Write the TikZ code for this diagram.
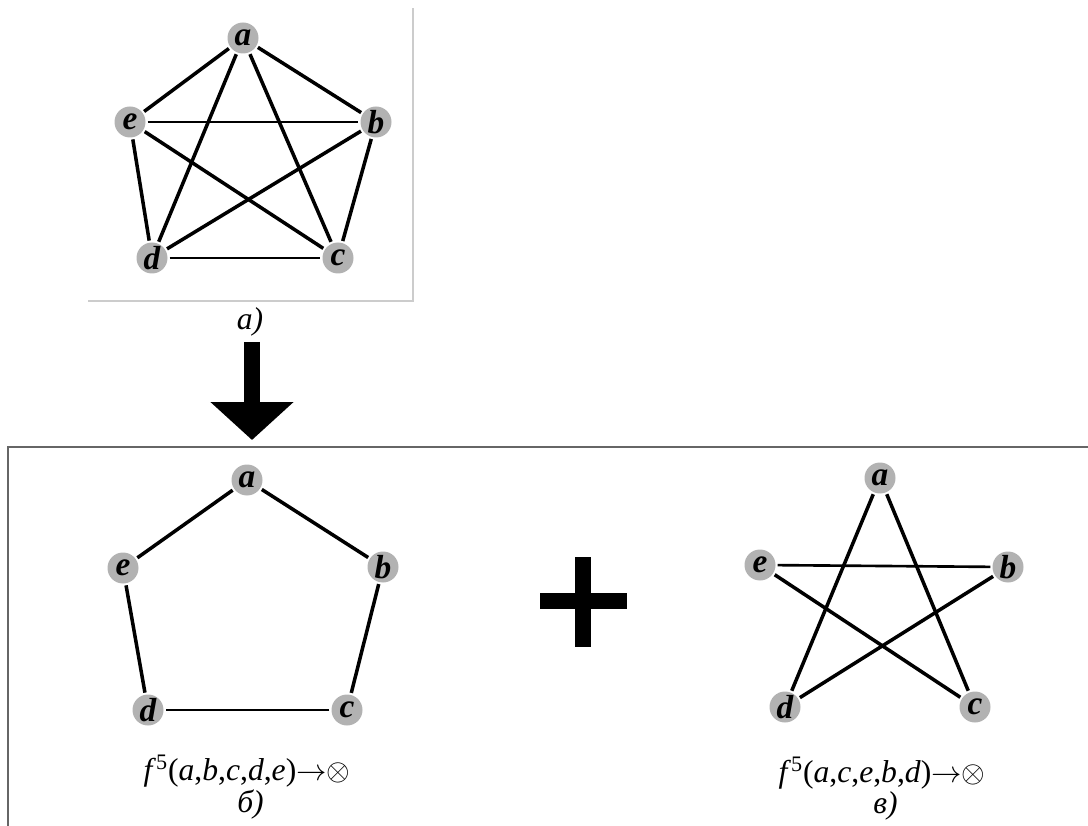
\documentclass[tikz,border=0pt]{standalone}
\usepackage{fontspec}
\setmainfont{Liberation Serif}
\usepackage{xcolor}
\usetikzlibrary{arrows.meta, positioning}
\tikzset{
  vertex/.style={
    circle, fill=black!30, inner sep=0pt, minimum size=0.62cm,
    font=\fontsize{19}{19}\selectfont\bfseries\itshape
  },
  edgeline/.style={
    line width=2pt, shorten <=1pt, shorten >=1pt
  },
  flatline/.style={
    line width=1.5pt, shorten <=1pt, shorten >=1pt
  },
  caption/.style={
    font=\fontsize{18}{20}\selectfont, inner sep=1pt
  },
  panelframe/.style={draw=black!60, line width=0.8pt},
  lightframe/.style={draw=black!20, line width=0.8pt},
  bigarrow/.style={
    line width=0.32cm, -{Triangle[length=0.76cm, width=1.62cm]}
  },
}
\newcommand{\tomul}{$\mathord{\rightarrow}\mathord{\otimes}$}

\begin{document}
\begin{tikzpicture}
  \useasboundingbox (0,0) rectangle (21.76,16.5);

  % === a) complete graph ===
  \draw[lightframe] (1.76,10.48) -- (8.26,10.48) -- (8.26,16.34);
  \node[vertex] (ta) at (4.86,15.74) {a};
  \node[vertex] (te) at (2.60,14.06) {e};
  \node[vertex] (tb) at (7.52,14.06) {b};
  \node[vertex] (td) at (3.04,11.34) {d};
  \node[vertex] (tc) at (6.76,11.34) {c};
  \draw[edgeline] (ta) -- (te);
  \draw[edgeline] (ta) -- (tb);
  \draw[edgeline] (ta) -- (td);
  \draw[edgeline] (ta) -- (tc);
  \draw[flatline] (te) -- (tb);
  \draw[edgeline] (te) -- (td);
  \draw[edgeline] (te) -- (tc);
  \draw[edgeline] (tb) -- (td);
  \draw[edgeline] (tb) -- (tc);
  \draw[flatline] (td) -- (tc);
  \node[caption, font=\fontsize{18}{20}\selectfont\itshape] (capa) at (5.00,10.06) {а)};

  % === Arrow down ===
  \coordinate (arrowtop) at (5.04,9.66);
  \coordinate (arrowtip) at (5.04,7.70);
  \draw[bigarrow] (arrowtop) -- (arrowtip);

  % === Lower panel ===
  \draw[panelframe] (21.9,7.56) -- (0.16,7.56) -- (0.16,-0.2);

  % === b) cycle ===
  \node[vertex] (ca) at (4.94,6.90) {a};
  \node[vertex] (ce) at (2.46,5.14) {e};
  \node[vertex] (cb) at (7.66,5.16) {b};
  \node[vertex] (cd) at (2.96,2.30) {d};
  \node[vertex] (cc) at (6.94,2.30) {c};
  \draw[edgeline] (ca) -- (ce);
  \draw[edgeline] (ca) -- (cb);
  \draw[edgeline] (cb) -- (cc);
  \draw[flatline] (cc) -- (cd);
  \draw[edgeline] (cd) -- (ce);
  \node[caption] (capb) at (4.94,1.08)
    {\textit{f}\textsuperscript{5}(\textit{a},\textit{b},\textit{c},\textit{d},\textit{e})\tomul};
  \node[caption, font=\fontsize{18}{20}\selectfont\itshape, below=-1pt of capb, xshift=2pt] (labb) {б)};

  % === Plus ===
  \fill (10.80,4.32) rectangle (12.54,4.64);
  \fill (11.50,3.56) rectangle (11.82,5.36);

  % === c) star ===
  \node[vertex] (sa) at (17.60,6.94) {a};
  \node[vertex] (se) at (15.20,5.20) {e};
  \node[vertex] (sb) at (20.16,5.16) {b};
  \node[vertex] (sd) at (15.70,2.36) {d};
  \node[vertex] (sc) at (19.50,2.36) {c};
  \draw[flatline] (se) -- (sb);
  \draw[edgeline] (sa) -- (sd);
  \draw[edgeline] (sa) -- (sc);
  \draw[edgeline] (se) -- (sc);
  \draw[edgeline] (sd) -- (sb);
  \node[caption] (capc) at (17.64,1.04)
    {\textit{f}\textsuperscript{5}(\textit{a},\textit{c},\textit{e},\textit{b},\textit{d})\tomul};
  \node[caption, font=\fontsize{18}{20}\selectfont\itshape, below=-1pt of capc, xshift=2pt] (labc) {в)};
\end{tikzpicture}
\end{document}
